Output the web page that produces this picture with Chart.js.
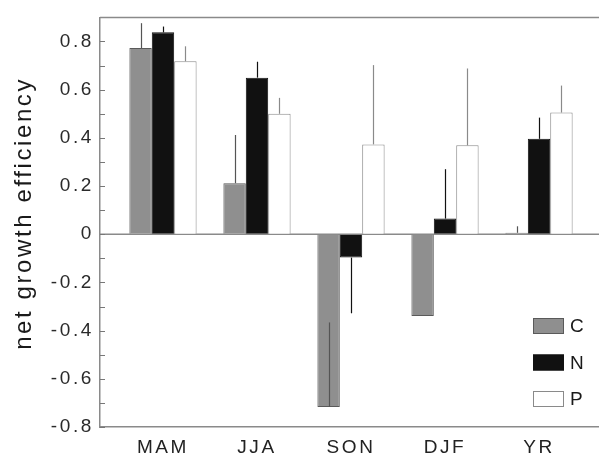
<!DOCTYPE html>
<html>
<head>
<meta charset="utf-8">
<script src="https://cdn.jsdelivr.net/npm/chart.js@4.4.1/dist/chart.umd.min.js"></script>
<style>
  html, body { margin: 0; padding: 0; background: #fff; }
  #wrap { width: 599px; height: 454px; position: relative; }
</style>
</head>
<body>
<div id="wrap"><canvas id="nge"></canvas></div>
<script>
// Seasons on the x axis
const seasons = ['MAM', 'JJA', 'SON', 'DJF', 'YR'];

// Bar heights (net growth efficiency)
const cValues = [0.773, 0.212, -0.717, -0.339, 0.006];
const nValues = [0.838, 0.650, -0.097, 0.065, 0.396];
const pValues = [0.718, 0.500, 0.373, 0.369, 0.505];

// Where each error whisker ends (null = none visible)
const cErrEnd = [0.876, 0.412, -0.366, null, 0.033];
const nErrEnd = [0.862, 0.716, -0.328, 0.270, 0.484];
const pErrEnd = [0.780, 0.566, 0.702, 0.688, 0.617];

// Y axis: labelled ticks and small inward tick marks
const yLabelTicks = [-0.8, -0.6, -0.4, -0.2, 0, 0.2, 0.4, 0.6, 0.8];
const yMinorTicks = [-0.8, -0.7, -0.6, -0.5, -0.4, -0.3, -0.2, -0.1, 0, 0.1, 0.2, 0.3, 0.4, 0.5, 0.6, 0.7, 0.8];
const yTitle = 'net growth efficiency';

const FONT = '"Liberation Sans", Arial, Helvetica, sans-serif';
const AXIS_GREY = '#8a8a8a';
const SPACING = '2.6px';

Chart.defaults.font.family = FONT;
Chart.defaults.color = '#2a2a2a';

// scanned figure has wide tracking, canvas letterSpacing gets reset on resize
const trackingPlugin = {
    id: 'tracking',
    beforeUpdate(chart) { chart.ctx.letterSpacing = SPACING; },
    beforeDraw(chart) { chart.ctx.letterSpacing = SPACING; }
};

// frame, zero line, inward ticks
const framePlugin = {
    id: 'frame',
    beforeDatasetsDraw(chart) {
        const { ctx, chartArea } = chart;
        const y = chart.scales.y;
        ctx.save();
        ctx.strokeStyle = AXIS_GREY;
        ctx.lineWidth = 1.5;
        ctx.beginPath();
        ctx.moveTo(chartArea.left, chartArea.top);
        ctx.lineTo(chartArea.right, chartArea.top);
        const zy = y.getPixelForValue(0);
        ctx.moveTo(chartArea.left, zy);
        ctx.lineTo(chartArea.right, zy);
        ctx.stroke();

        ctx.lineWidth = 1;
        ctx.strokeStyle = '#777';
        ctx.beginPath();
        yMinorTicks.forEach(v => {
            const py = Math.round(y.getPixelForValue(v)) + 0.5;
            ctx.moveTo(chartArea.left, py);
            ctx.lineTo(chartArea.left + 5, py);
        });
        ctx.stroke();
        ctx.restore();
    }
};

// vertical whiskers from the bar end
const errorPlugin = {
    id: 'whiskers',
    afterDatasetsDraw(chart) {
        const { ctx } = chart;
        const y = chart.scales.y;
        chart.data.datasets.forEach((ds, di) => {
            const meta = chart.getDatasetMeta(di);
            ctx.save();
            ctx.strokeStyle = ds.errColor;
            ctx.lineWidth = 1.2;
            meta.data.forEach((bar, i) => {
                const end = ds.errEnd[i];
                if (end === null) return;
                const x = Math.round(bar.x) + 0.5;
                ctx.beginPath();
                ctx.moveTo(x, y.getPixelForValue(ds.data[i].y));
                ctx.lineTo(x, y.getPixelForValue(end));
                ctx.stroke();
            });
            ctx.restore();
        });
    }
};

// legend boxes in the lower right of the plot + rotated y title
const legendPlugin = {
    id: 'boxLegend',
    afterDraw(chart) {
        const { ctx, chartArea } = chart;
        const x0 = chartArea.right - 66;
        let y0 = chartArea.bottom - 109;
        ctx.save();
        ctx.font = '19px ' + FONT;
        ctx.letterSpacing = SPACING;
        ctx.textBaseline = 'middle';
        chart.data.datasets.forEach(ds => {
            ctx.fillStyle = ds.backgroundColor;
            ctx.fillRect(x0, y0, 31, 16);
            ctx.strokeStyle = ds.borderColor;
            ctx.lineWidth = 1;
            ctx.strokeRect(x0 + 0.5, y0 + 0.5, 30, 15);
            ctx.fillStyle = '#1a1a1a';
            ctx.fillText(ds.label, x0 + 37, y0 + 9);
            y0 += 36.5;
        });

        // title sits a bit above the middle of the axis in the original
        ctx.translate(24, chartArea.top + 196);
        ctx.rotate(-Math.PI / 2);
        ctx.font = '24px ' + FONT;
        ctx.textAlign = 'center';
        ctx.fillText(yTitle, 0, 0);
        ctx.restore();
    }
};

function makeSet(label, values, errEnd, fill, border, errColor) {
    return {
        label: label,
        data: values.map((v, i) => ({ x: i, y: v })),
        backgroundColor: fill,
        borderColor: border,
        borderWidth: 1,
        errEnd: errEnd,
        errColor: errColor
    };
}

new Chart(document.getElementById('nge'), {
    type: 'bar',
    data: {
        datasets: [
            makeSet('C', cValues, cErrEnd, '#8f8f8f', '#5a5a5a', '#555'),
            makeSet('N', nValues, nErrEnd, '#111111', '#111111', '#111'),
            makeSet('P', pValues, pErrEnd, '#ffffff', '#8a8a8a', '#8a8a8a')
        ]
    },
    options: {
        responsive: true,
        maintainAspectRatio: false,
        animation: false,
        layout: { padding: { top: 12, left: 0, right: 0, bottom: 0 } },
        datasets: {
            bar: { categoryPercentage: 0.715, barPercentage: 1.0 }
        },
        plugins: {
            legend: { display: false },
            tooltip: { enabled: false }
        },
        scales: {
            x: {
                type: 'linear',
                offset: false,
                min: -0.67,
                max: 4.638,
                afterBuildTicks: (scale) => {
                    scale.ticks = seasons.map((s, i) => ({ value: i }));
                },
                afterFit: (scale) => { scale.height = 27; },
                grid: { drawOnChartArea: false, drawTicks: false, offset: false },
                border: { display: true, color: AXIS_GREY, width: 1.5 },
                ticks: {
                    padding: 9,
                    font: { size: 19 },
                    color: '#222',
                    callback: (v) => seasons[v]
                }
            },
            y: {
                min: -0.8,
                max: 0.9,
                afterBuildTicks: (scale) => {
                    scale.ticks = yLabelTicks.map(v => ({ value: v }));
                },
                afterFit: (scale) => { scale.width = 100; },
                grid: { drawOnChartArea: false, drawTicks: false },
                border: { display: true, color: AXIS_GREY, width: 1.5 },
                ticks: {
                    padding: 6,
                    font: { size: 19 },
                    color: '#2a2a2a',
                    callback: (v) => String(Math.round(v * 10) / 10)
                }
            }
        }
    },
    plugins: [trackingPlugin, framePlugin, errorPlugin, legendPlugin]
});
</script>
</body>
</html>
